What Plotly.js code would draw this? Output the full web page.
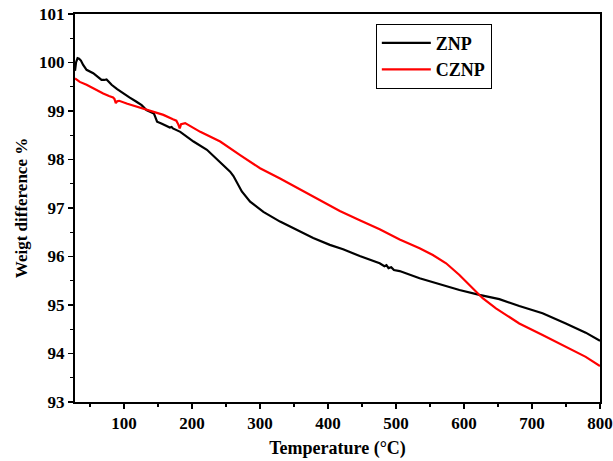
<!DOCTYPE html>
<html>
<head>
<meta charset="utf-8">
<script src="https://cdn.plot.ly/plotly-3.0.1.min.js"></script>
<style>html,body{margin:0;padding:0;background:#fff;}#chart{width:613px;height:461px;}</style>
</head>
<body>
<div id="chart"></div>
<script>
const znpTemp = [28, 29.5, 31.8, 34, 36.7, 40, 45, 54.8, 62, 67, 71, 74.4, 78, 81.8, 90, 98.8, 108, 118.4, 126, 133, 140, 143.9, 146, 148.7, 155, 163, 167.4, 170, 172, 182.8, 202.3, 222, 241.5, 256.1, 261, 265.9, 273.3, 285.5, 305, 329.5, 353.9, 378.3, 402.7, 422.2, 446.7, 476, 483, 486, 489, 493, 497, 505.4, 534.7, 564, 593.3, 622.6, 637.2, 652, 681.3, 715.5, 749.7, 779, 800];
const znpWeight = [99.83, 100.0, 100.09, 100.08, 100.04, 99.95, 99.85, 99.78, 99.70, 99.64, 99.64, 99.65, 99.60, 99.54, 99.45, 99.36, 99.28, 99.19, 99.12, 99.02, 98.97, 98.95, 98.88, 98.78, 98.74, 98.68, 98.66, 98.67, 98.64, 98.57, 98.37, 98.20, 97.95, 97.75, 97.66, 97.54, 97.34, 97.13, 96.92, 96.72, 96.55, 96.38, 96.24, 96.15, 96.01, 95.86, 95.80, 95.82, 95.76, 95.78, 95.72, 95.70, 95.55, 95.43, 95.31, 95.21, 95.17, 95.12, 94.98, 94.83, 94.62, 94.43, 94.26];

const cznpTemp = [28, 35, 45, 57, 69.5, 78, 84, 86, 88, 90, 93, 105, 118.4, 130, 142.7, 158, 172, 177, 180, 182, 184, 190, 212.2, 241.5, 270.8, 300.1, 329.5, 344, 358.8, 388.1, 417.4, 446.7, 476, 505.4, 534.7, 554.2, 573.7, 593.3, 612.8, 627.5, 647, 681.3, 715.5, 749.7, 779, 800];
const cznpWeight = [99.67, 99.60, 99.54, 99.45, 99.36, 99.31, 99.28, 99.25, 99.16, 99.20, 99.21, 99.15, 99.09, 99.04, 98.99, 98.92, 98.83, 98.80, 98.72, 98.64, 98.73, 98.75, 98.57, 98.37, 98.09, 97.82, 97.61, 97.50, 97.38, 97.16, 96.94, 96.75, 96.56, 96.35, 96.17, 96.03, 95.86, 95.62, 95.34, 95.14, 94.93, 94.62, 94.38, 94.14, 93.93, 93.74];

const seriesNames = ['ZNP', 'CZNP'];
const xTickVals = [100, 200, 300, 400, 500, 600, 700, 800];
const yTickVals = [93, 94, 95, 96, 97, 98, 99, 100, 101];

const fontFam = '"Liberation Serif", "Times New Roman", serif';

const traces = [
  {x: znpTemp, y: znpWeight, name: seriesNames[0], mode: 'lines', line: {color: '#000000', width: 2.2}},
  {x: cznpTemp, y: cznpWeight, name: seriesNames[1], mode: 'lines', line: {color: '#ff0000', width: 2.2}}
];

const layout = {
  width: 613, height: 461,
  margin: {l: 75, r: 13, t: 14, b: 59},
  paper_bgcolor: '#ffffff', plot_bgcolor: '#ffffff',
  font: {family: fontFam, color: '#000', size: 17, weight: 'bold'},
  showlegend: true,
  legend: {
    x: 0.573, y: 0.975, xanchor: 'left', yanchor: 'top',
    bordercolor: '#000', borderwidth: 1, bgcolor: '#fff',
    font: {family: fontFam, size: 18, color: '#000', weight: 'bold'},
    tracegroupgap: 0, itemwidth: 49
  },
  xaxis: {
    range: [28, 800], tickvals: xTickVals,
    ticks: 'outside', ticklen: 5, tickwidth: 1.5, tickcolor: '#000',
    minor: {dtick: 50, tick0: 0, ticks: 'outside', ticklen: 3, tickwidth: 1.2, tickcolor: '#000'},
    showline: true, linecolor: '#000', linewidth: 2, mirror: true,
    showgrid: false, zeroline: false,
    tickfont: {family: fontFam, size: 17, weight: 'bold', color: '#000'},
    title: {text: 'Temperature (°C)', font: {family: fontFam, size: 18, weight: 'bold', color: '#000'}, standoff: 9}
  },
  yaxis: {
    range: [93, 101], tickvals: yTickVals,
    ticks: 'outside', ticklen: 5, tickwidth: 1.5, tickcolor: '#000',
    minor: {dtick: 0.5, tick0: 93, ticks: 'outside', ticklen: 3, tickwidth: 1.2, tickcolor: '#000'},
    showline: true, linecolor: '#000', linewidth: 2, mirror: true,
    showgrid: false, zeroline: false,
    tickfont: {family: fontFam, size: 17, weight: 'bold', color: '#000'},
    title: {text: 'Weigt difference %', font: {family: fontFam, size: 17, weight: 'bold', color: '#000'}, standoff: 7}
  }
};

Plotly.newPlot('chart', traces, layout, {displayModeBar: false, staticPlot: true});
</script>
</body>
</html>
